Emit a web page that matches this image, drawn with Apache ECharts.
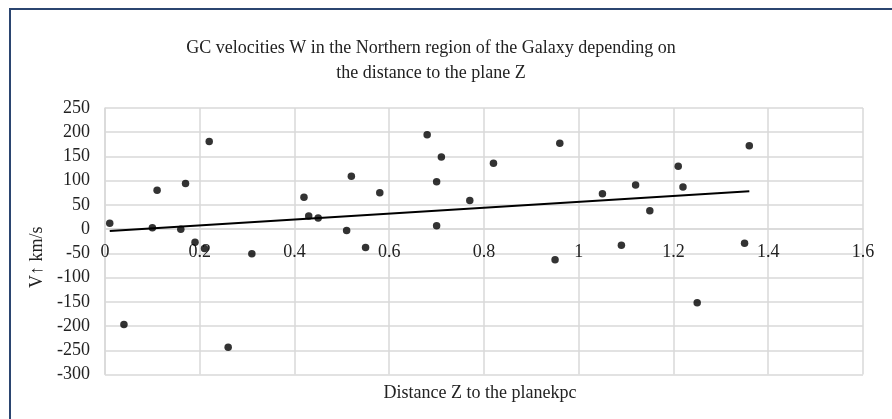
<!DOCTYPE html>
<html>
<head>
<meta charset="utf-8">
<script src="https://cdn.jsdelivr.net/npm/echarts@6/dist/echarts.min.js"></script>
<style>
  html, body { margin: 0; padding: 0; background: #fff; }
  #chart { width: 892px; height: 419px; }
</style>
</head>
<body>
<div id="chart"></div>
<script>
// distance Z (kpc) and velocity W (km/s)
var zDist = [0.01, 0.04, 0.10, 0.11, 0.16, 0.17, 0.19, 0.21, 0.22, 0.26, 0.31,
  0.42, 0.43, 0.45, 0.51, 0.52, 0.55, 0.58, 0.68, 0.71, 0.70, 0.70,
  0.77, 0.82, 0.95, 0.96, 1.05, 1.09, 1.12, 1.15, 1.21, 1.22, 1.25, 1.35, 1.36];
var wVel = [12, -197, 3, 80, 0, 94, -27, -40, 181, -244, -51,
  66, 27, 23, -3, 109, -38, 75, 195, 149, 98, 7,
  59, 136, -63, 177, 73, -33, 91, 38, 130, 87, -152, -29, 172];
// linear trend line ends
var trendZ = [0.01, 1.36];
var trendW = [-4, 78];

var points = zDist.map(function (z, i) { return [z, wVel[i]]; });
var trend = trendZ.map(function (z, i) { return [z, trendW[i]]; });

var yMin = -300, yMax = 250;
var gridTop = 108, gridBottom = 44.5, chartH = 419;
// move the x axis up to where y = 0 sits (labels drawn there, like in the original)
var plotH = chartH - gridTop - gridBottom;
var zeroShift = plotH * (0 - yMin) / (yMax - yMin);

var font = '"Liberation Serif", "Times New Roman", serif';
var chart = echarts.init(document.getElementById('chart'));
chart.setOption({
  animation: false,
  title: {
    text: 'GC velocities W in the Northern region of the Galaxy depending on\nthe distance to the plane Z',
    left: 431,
    top: 36,
    padding: 0,
    textAlign: 'center',
    textStyle: { fontFamily: font, fontSize: 18, fontWeight: 'normal', color: '#222', lineHeight: 25 }
  },
  grid: { left: 105, right: 29, top: gridTop, bottom: gridBottom, outerBoundsMode: 'none', containLabel: false },
  xAxis: {
    type: 'value',
    min: 0, max: 1.6, interval: 0.2,
    offset: -zeroShift,
    name: 'Distance Z to the planekpc',
    nameLocation: 'middle',
    nameGap: 155,
    nameTextStyle: { fontFamily: font, fontSize: 18, color: '#222', padding: [0, 8, 0, 0] },
    axisLine: { show: true, onZero: false, lineStyle: { color: '#d9d9d9', width: 1.5 } },
    axisTick: { show: false },
    axisLabel: { fontFamily: font, fontSize: 18, color: '#222', margin: 14 },
    splitLine: { lineStyle: { color: '#d9d9d9', width: 1.5 } }
  },
  yAxis: {
    type: 'value',
    min: yMin, max: yMax, interval: 50,
    name: 'V\u2191 km/s',
    nameLocation: 'middle',
    nameRotate: 90,
    nameGap: 59,
    nameTextStyle: { fontFamily: font, fontSize: 18, color: '#222', padding: [0, 32, 0, 0] },
    axisLine: { show: true, onZero: false, lineStyle: { color: '#d9d9d9', width: 1.5 } },
    axisTick: { show: false },
    axisLabel: { fontFamily: font, fontSize: 18, color: '#222', margin: 15 },
    splitLine: { lineStyle: { color: '#d9d9d9', width: 1.5 } }
  },
  graphic: [{
    type: 'rect',
    silent: true,
    shape: { x: 10, y: 9, width: 900, height: 440 },
    style: { fill: null, stroke: '#2b4570', lineWidth: 2 }
  }],
  series: [{
    type: 'scatter',
    data: points,
    symbolSize: 7.5,
    itemStyle: { color: '#000' },
    z: 3
  }, {
    type: 'line',
    data: trend,
    showSymbol: false,
    lineStyle: { color: '#000', width: 2 },
    z: 2
  }]
});
</script>
</body>
</html>
